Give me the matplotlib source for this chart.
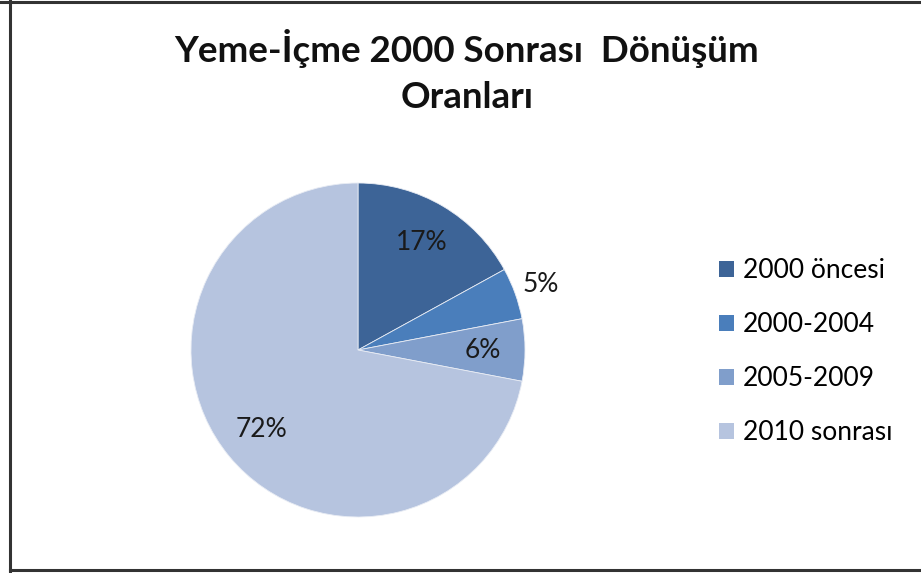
import numpy as np
import matplotlib.pyplot as plt
from matplotlib.lines import Line2D
from matplotlib.patches import Patch

plt.rcParams['font.family'] = ['Lato', 'DejaVu Sans']

title = "Yeme-İçme 2000 Sonrası  Dönüşüm\nOranları"
labels = ["2000 öncesi", "2000-2004", "2005-2009", "2010 sonrası"]
shares = [17, 5, 6, 72]
colors = ["#3D6497", "#4A7EBB", "#809ECB", "#B6C4DF"]


def main():
    fig = plt.figure(figsize=(9.21, 5.73), dpi=100)
    W, H = 921, 573
    cx, cy, r = 358, 350, 167
    ax = fig.add_axes([(cx - r) / W, (H - cy - r) / H, 2 * r / W, 2 * r / H])

    wedges, texts, autotexts = ax.pie(
        shares, colors=colors, startangle=90, counterclock=False,
        autopct=lambda p: "%d%%" % round(p), pctdistance=0.75,
        wedgeprops=dict(edgecolor="#e8ecf4", linewidth=0.6),
        textprops=dict(fontsize=19, color="#1a1a1a"))
    # small slice label sits outside the pie
    w = wedges[1]
    ang = np.deg2rad((w.theta1 + w.theta2) / 2)
    autotexts[1].set_position((1.16 * np.cos(ang), 1.16 * np.sin(ang)))
    ax.set_xlim(-1, 1)
    ax.set_ylim(-1, 1)
    ax.axis("off")

    fig.text(0.507, 0.875, title, ha="center", va="center", fontsize=26.5,
             fontweight="bold", linespacing=1.5, color="#111111")

    handles = [Patch(facecolor=c, edgecolor="none") for c in colors]
    fig.legend(handles, labels, loc="center left", bbox_to_anchor=(0.755, 0.386),
               frameon=False, fontsize=19, handlelength=0.55, handleheight=0.55,
               handletextpad=0.35, labelspacing=1.1)

    # frame lines (left, top, bottom)
    fig.add_artist(Line2D([9.5 / W, 9.5 / W], [0, 1], color="#333333", lw=2.2))
    fig.add_artist(Line2D([0, 1], [1 - 1.5 / H, 1 - 1.5 / H], color="#333333", lw=2.2))
    fig.add_artist(Line2D([9.5 / W, 1], [3.5 / H, 3.5 / H], color="#333333", lw=2.2))

    fig.savefig("out.png", dpi=100)


if __name__ == "__main__":
    main()
